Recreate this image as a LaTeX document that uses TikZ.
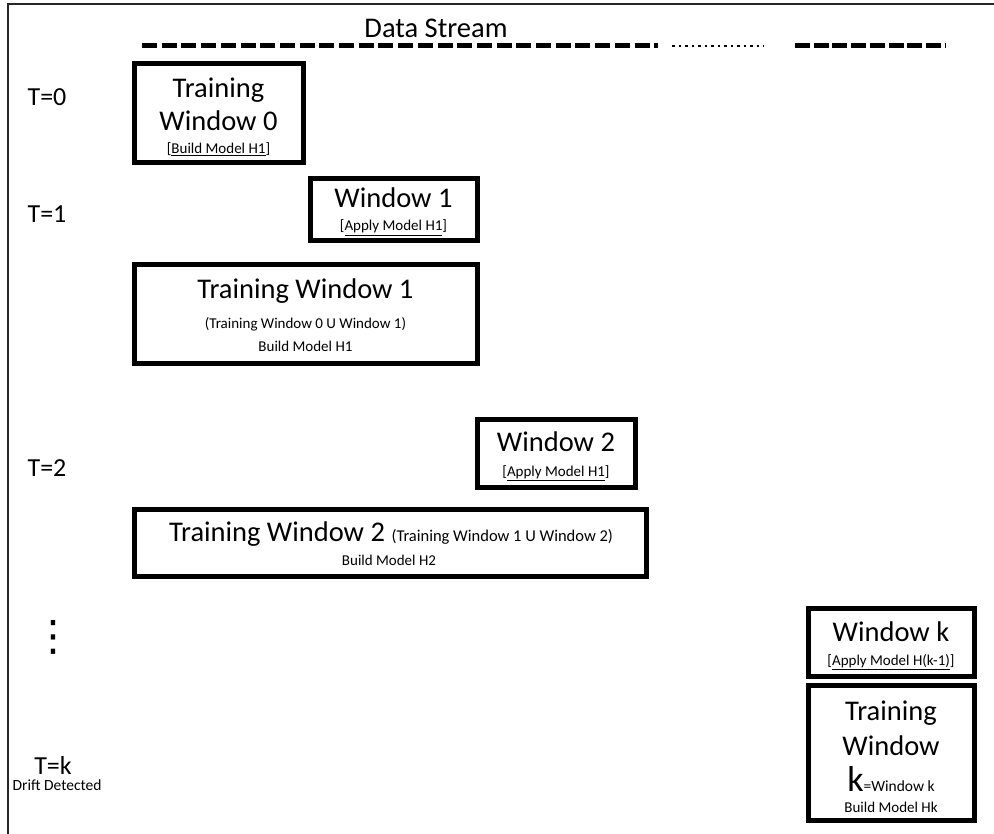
\documentclass[tikz,border=0pt]{standalone}
\usepackage{fontspec}
\setmainfont{Carlito}
\newfontfamily\dejavu{DejaVu Sans}
\begin{document}
\begin{tikzpicture}[x=1pt,y=-1pt,
  win/.style={draw=black,line width=5pt,inner sep=0pt,minimum width=0pt},
  big/.style={font=\fontsize{28.5}{30}\selectfont,anchor=base,inner sep=0pt},
  small/.style={font=\fontsize{15}{16}\selectfont,anchor=base,inner sep=0pt},
  lab/.style={font=\fontsize{26}{28}\selectfont,anchor=base,inner sep=0pt},
  stream/.style={line width=5pt,dash pattern=on 15pt off 4.7pt}]
\useasboundingbox (0,0) rectangle (994,834);
% frame
\draw[line width=2.5pt,black!85] (8,834) -- (8,4) -- (994,4);
% data stream
\node[font=\fontsize{28.5}{30}\selectfont,anchor=base,inner sep=0pt] (ds) at (436,38) {Data Stream};
\coordinate (s1a) at (142,46); \coordinate (s1b) at (658,46);
\coordinate (s2a) at (672,46); \coordinate (s2b) at (764,46);
\coordinate (s3a) at (795,46); \coordinate (s3b) at (946,46);
\draw[stream] (s1a) -- (s1b);
\draw[line width=2.5pt,dash pattern=on 2.5pt off 4pt] (s2a) -- (s2b);
\draw[stream,dash pattern=on 15pt off 3.7pt] (s3a) -- (s3b);
% boxes
\draw[win] (134,64) rectangle (303,163);
\node[big] (tw0a) at (218.5,98) {Training};
\node[big] (tw0b) at (218.5,131) {Window 0};
\node[small] (tw0d) at (218.5,154) {[\underline{Build Model H1}]};

\draw[win] (310,179) rectangle (477,241);
\node[big] (w1a) at (393.5,208) {Window 1};
\node[small] (w1b) at (393.5,231) {[\underline{Apply Model H1}]};

\draw[win] (134,265) rectangle (477,364);
\node[big] (tw1a) at (305.5,299) {Training Window 1};
\node[small] (tw1b) at (305.5,329) {(Training Window 0 U Window 1)};
\node[small] (tw1c) at (305.5,352) {Build Model H1};

\draw[win] (477,420) rectangle (635,487);
\node[big] (w2a) at (556,451) {Window 2};
\node[small] (w2b) at (556,476) {[\underline{Apply Model H1}]};

\draw[win] (134,509) rectangle (646,576);
\node[big] (tw2a) at (391,541) {Training Window 2 {\fontsize{16.5}{18}\selectfont(Training Window 1 U Window 2)}};
\node[small] (tw2b) at (389,565) {Build Model H2};

\draw[win] (808,608) rectangle (974,676);
\node[big] (wka) at (891,641) {Window k};
\node[small] (wkb) at (891,665) {[\underline{Apply Model H(k-1)}]};

\draw[win] (808,685) rectangle (974,820);
\node[big] (twka) at (891,720) {Training};
\node[big] (twkb) at (891,755) {Window};
\node[big] (twkc) at (891,791) {{\fontsize{36}{38}\selectfont k}{\fontsize{15.5}{16}\selectfont=Window k}};
\node[small] (twkd) at (891,812) {Build Model Hk};

% time labels
\node[lab] (t0) at (47,106) {T=0};
\node[lab] (t1) at (47,223) {T=1};
\node[lab] (t2) at (47,476) {T=2};
\node[font=\dejavu\fontsize{42}{44}\selectfont,inner sep=0pt,anchor=center] (dots) at (53,637) {⋮};
\node[lab] (tk) at (53,774) {T=k};
\node[small,font=\fontsize{15.5}{16}\selectfont] (dd) at (57,790) {Drift Detected};
\end{tikzpicture}
\end{document}
